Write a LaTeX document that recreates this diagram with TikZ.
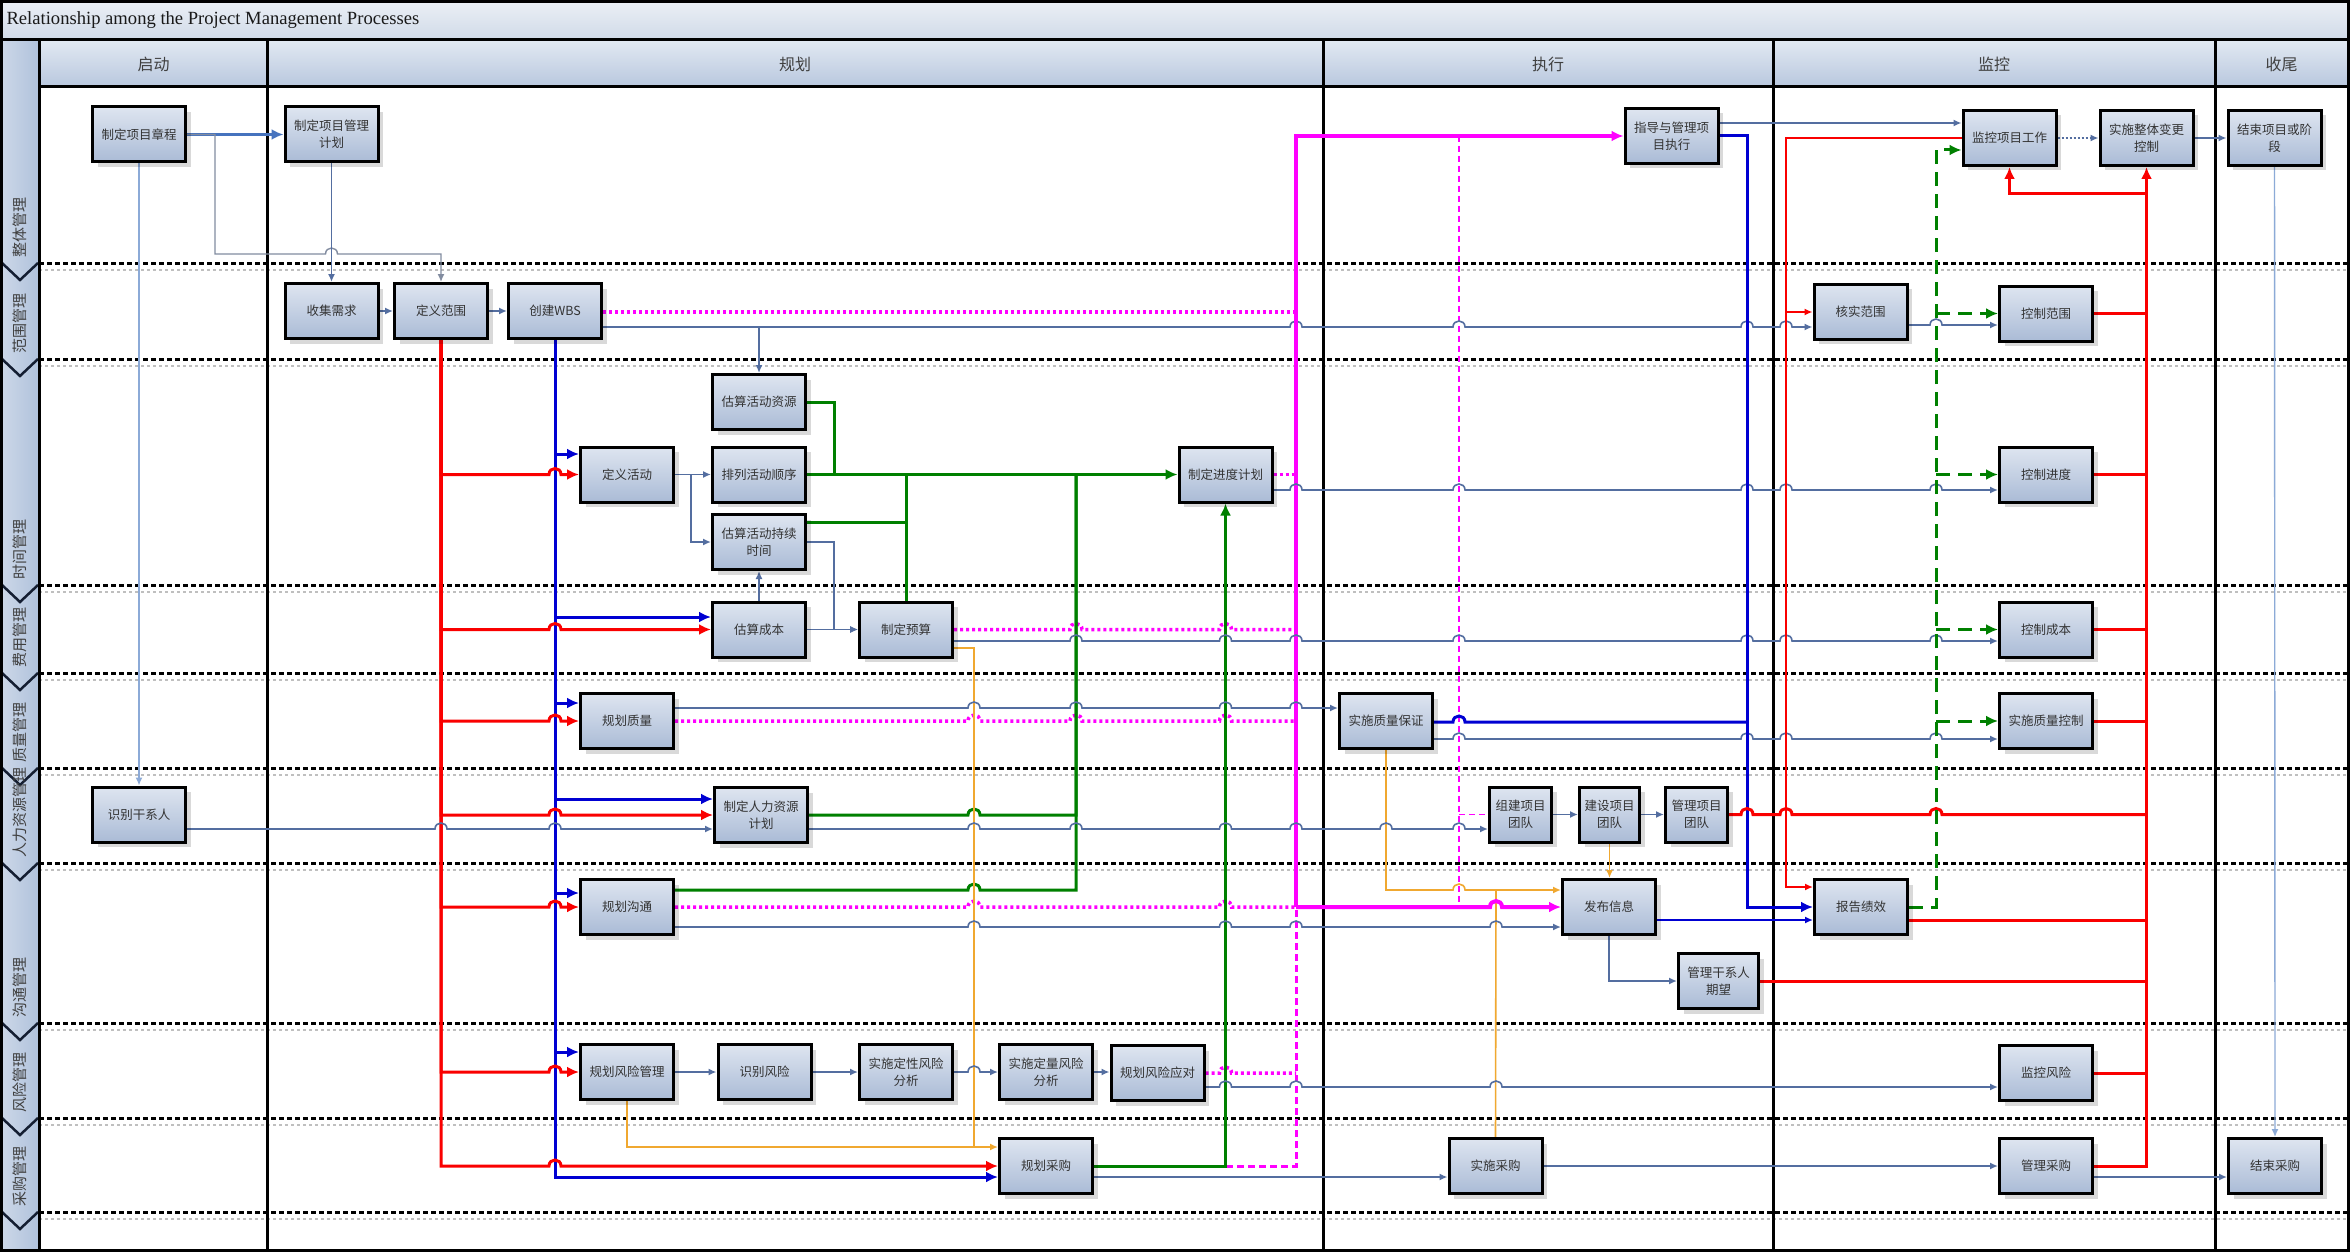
\documentclass[tikz,border=0pt]{standalone}
\usepackage{fontspec}
\setmainfont{Liberation Serif}
\newfontfamily\cjk{Noto Sans CJK SC}
\usetikzlibrary{arrows.meta,shadows,calc}
\pgfdeclarelayer{bg}
\pgfdeclarelayer{mid}
\pgfsetlayers{bg,mid,main}
\definecolor{cred}{RGB}{250,0,0}
\definecolor{cblue}{RGB}{0,0,210}
\definecolor{cgreen}{RGB}{0,128,0}
\definecolor{cmag}{RGB}{255,0,255}
\definecolor{csteel}{RGB}{84,110,160}
\definecolor{csteelb}{RGB}{70,115,190}
\definecolor{corange}{RGB}{240,168,48}
\definecolor{cgray}{RGB}{130,140,160}
\definecolor{clight}{RGB}{140,170,215}
\definecolor{ntop}{RGB}{222,229,240}
\definecolor{nbot}{RGB}{170,187,214}
\definecolor{htop}{RGB}{226,233,242}
\definecolor{hbot}{RGB}{184,199,222}
\definecolor{ttop}{RGB}{236,240,246}
\definecolor{tbot}{RGB}{208,218,232}
\definecolor{stripL}{RGB}{205,216,232}
\definecolor{stripR}{RGB}{176,194,220}
\definecolor{cnavy}{RGB}{20,30,50}
\newcommand\hopx[2]{-- ({#1-6},#2) .. controls ({#1-6},{#2-8}) and ({#1+6},{#2-8}) .. ({#1+6},#2)}
\begin{document}
\begin{tikzpicture}[x=1pt,y=-1pt,
  proc/.style={draw=black, line width=3pt, minimum width=93pt, minimum height=55pt, inner sep=1pt, align=center,
    top color=ntop, bottom color=nbot, text=black!80, font=\cjk\fontsize{12.5}{17}\selectfont,
    drop shadow={shadow xshift=5pt, shadow yshift=-5pt, fill=black, opacity=0.15}},
  hdr/.style={font=\cjk\fontsize{16}{16}\selectfont, text=black!75},
  lanelbl/.style={rotate=90, anchor=west, inner sep=0pt, font=\cjk\fontsize{15}{15}\selectfont, text=black!75},
  lred/.style={draw=cred, line width=3pt},
  lredn/.style={draw=cred, line width=1.6pt},
  lblue/.style={draw=cblue, line width=3pt},
  lbluen/.style={draw=cblue, line width=1.6pt},
  lgreen/.style={draw=cgreen, line width=3pt},
  lgreend/.style={draw=cgreen, line width=3pt, dash pattern=on 14pt off 8pt},
  lmag/.style={draw=cmag, line width=4pt},
  lmagdot/.style={draw=cmag, line width=3.5pt, dash pattern=on 3pt off 3pt},
  lmagdash/.style={draw=cmag, line width=3pt, dash pattern=on 7pt off 4pt},
  lmagthin/.style={draw=cmag, line width=1.6pt, dash pattern=on 6pt off 4pt},
  lsteel/.style={draw=csteel, line width=1.6pt},
  lsteelb/.style={draw=csteelb, line width=3pt},
  lorange/.style={draw=corange, line width=1.6pt},
  lgray/.style={draw=cgray, line width=1.4pt},
  llight/.style={draw=clight, line width=1.4pt},
  bigarr/.style={-{Latex[length=12pt,width=11pt]}},
  smarr/.style={-{Latex[length=8pt,width=7pt]}}]
\useasboundingbox (0,0) rectangle (2350,1252);

% ---------- process nodes ----------
\node[proc] (zc) at (139,134.5) {制定项目章程};
\node[proc] (pmp) at (331.5,134.5) {制定项目管理\\计划};
\node[proc] (sjxq) at (331.5,311) {收集需求};
\node[proc] (dyfw) at (441,311) {定义范围};
\node[proc] (wbs) at (555,311) {创建WBS};
\node[proc] (dyhd) at (627,474.5) {定义活动};
\node[proc] (gszy) at (759,402) {估算活动资源};
\node[proc] (plsx) at (759,474.5) {排列活动顺序};
\node[proc] (gssj) at (759,542) {估算活动持续\\时间};
\node[proc] (gscb) at (759,629.5) {估算成本};
\node[proc] (zdys) at (906,629.5) {制定预算};
\node[proc] (jdjh) at (1225.5,474.5) {制定进度计划};
\node[proc] (ghzl) at (627,721) {规划质量};
\node[proc] (rlzy) at (761,815) {制定人力资源\\计划};
\node[proc] (sbgxr) at (139,814.5) {识别干系人};
\node[proc] (ghgt) at (627,907) {规划沟通};
\node[proc] (ghfx) at (627,1072) {规划风险管理};
\node[proc] (sbfx) at (764.5,1072) {识别风险};
\node[proc] (dxfx) at (906,1072) {实施定性风险\\分析};
\node[proc] (dlfx) at (1046,1072) {实施定量风险\\分析};
\node[proc] (fxyd) at (1157.5,1073) {规划风险应对};
\node[proc] (ghcg) at (1046,1166) {规划采购};
\node[proc] (zxgl) at (1671.5,136) {指导与管理项\\目执行};
\node[proc] (zlbz) at (1386,721) {实施质量保证};
\node[proc, minimum width=62pt] (zjtd) at (1520.5,814.5) {组建项目\\团队};
\node[proc, minimum width=60pt] (jstd) at (1609.5,814.5) {建设项目\\团队};
\node[proc, minimum width=62pt] (gltd) at (1696.5,814.5) {管理项目\\团队};
\node[proc] (fbxx) at (1609,907) {发布信息};
\node[proc, minimum width=80pt] (glgxr) at (1718.5,981) {管理干系人\\期望};
\node[proc] (sscg) at (1495.5,1166) {实施采购};
\node[proc] (jkgz) at (2009.5,138) {监控项目工作};
\node[proc] (ztbg) at (2146.5,138) {实施整体变更\\控制};
\node[proc] (jsxm) at (2274.5,138) {结束项目或阶\\段};
\node[proc] (hsfw) at (1860.5,311.5) {核实范围};
\node[proc] (kzfw) at (2046,313.5) {控制范围};
\node[proc] (kzjd) at (2046,474.5) {控制进度};
\node[proc] (kzcb) at (2046,629.5) {控制成本};
\node[proc] (zlkz) at (2046,721) {实施质量控制};
\node[proc] (bgjx) at (1861,907) {报告绩效};
\node[proc] (jkfx) at (2046,1073) {监控风险};
\node[proc] (glcg) at (2046,1166) {管理采购};
\node[proc] (jscg) at (2275,1166) {结束采购};

% ---------- junction coordinates ----------
\coordinate (cA) at (215,134.5);
\coordinate (wbsbr) at (759,327);
\coordinate (tbr) at (691,474.5);
\coordinate (gm1) at (834,474.5);
\coordinate (gm2) at (906,474.5);
\coordinate (gm3) at (1076,474.5);
\coordinate (mj) at (1296,907);
\coordinate (mtop) at (1296,136);
\coordinate (mcol) at (1459,136);
\coordinate (mcolb) at (1459,907);
\coordinate (mcolr) at (1459,814.5);
\coordinate (oj1) at (974,1147);
\coordinate (oj2) at (1496,890);
\coordinate (bj) at (1747,722);
\coordinate (rtb) at (1786,312);
\coordinate (rvx) at (2146.5,194);
\coordinate (gdv) at (1936,907);

% ---------- frame ----------
\begin{pgfonlayer}{bg}
\fill[white] (0,0) rectangle (2350,1252);
\shade[top color=ttop, bottom color=tbot] (0,0) rectangle (2350,40);
\shade[top color=htop, bottom color=hbot] (39,40) rectangle (2350,87);
\shade[left color=stripL, right color=stripR] (0,40) rectangle (39,1252);
\foreach \yy in {263,359,585,673,768,863,1023,1118,1212} {
  \draw[black!25, line width=1.5pt, dash pattern=on 3pt off 3pt] (39,\yy+7) -- (2348,\yy+7);
  \draw[black, line width=3pt, dash pattern=on 5pt off 3pt] (39,\yy) -- (2348,\yy);
  \draw[cnavy, line width=2.5pt] (2,\yy) -- (20,\yy+17) -- (38,\yy);
}
\foreach \xx in {267,1323,1773,2215} \draw[line width=3pt] (\xx,40) -- (\xx,1250);
\draw[line width=3pt] (39,40) -- (39,1250);
\draw[line width=3pt] (0,40) -- (2350,40);
\draw[line width=3pt] (39,87) -- (2350,87);
\draw[line width=3pt] (1.5,1.5) rectangle (2348.5,1250.5);
\node[anchor=west, font=\fontsize{18.6}{18.6}\selectfont, text=black!90] (title) at (3,20) {Relationship among the Project Management Processes};
\node[hdr] (h1) at (153.5,64) {启动};
\node[hdr] (h2) at (795,64) {规划};
\node[hdr] (h3) at (1548,64) {执行};
\node[hdr] (h4) at (1994,64) {监控};
\node[hdr] (h5) at (2281.5,64) {收尾};
\node[lanelbl] (l1) at (20,258) {整体管理};
\node[lanelbl] (l2) at (20,354) {范围管理};
\node[lanelbl] (l3) at (20,580) {时间管理};
\node[lanelbl] (l4) at (20,668) {费用管理};
\node[lanelbl] (l5) at (20,763) {质量管理};
\node[lanelbl] (l6) at (20,858) {人力资源管理};
\node[lanelbl] (l7) at (20,1018) {沟通管理};
\node[lanelbl] (l8) at (20,1113) {风险管理};
\node[lanelbl] (l9) at (20,1207) {采购管理};
\end{pgfonlayer}

% ---------- connectors ----------
\begin{pgfonlayer}{mid}
% magenta dotted inputs to the plan
\draw[lmagdot] (wbs.east |- 0,312) -- (mtop |- 0,312);
\draw[lmagdot] (jdjh.east) -- (mtop |- jdjh.east);
\draw[lmagdot] (zdys.east) \hopx{1076}{629.5} \hopx{1225.5}{629.5} -- (mtop |- zdys.east);
\draw[lmagdot] (ghzl.east) \hopx{974}{721} \hopx{1076}{721} \hopx{1225.5}{721} -- (mtop |- ghzl.east);
\draw[lmagdot] (ghgt.east) \hopx{974}{907} \hopx{1225.5}{907} -- (mj);
\draw[lmagdot] (fxyd.east) \hopx{1225.5}{1073} -- (mtop |- fxyd.east);
\draw[lmagdash] (ghcg.east) -- (mtop |- ghcg.east) -- (mj);
\draw[lmagthin] (mcol) -- (mcolb);
\draw[lmagthin] (mcolr) -- (zjtd.west);

% integration
\draw[lsteelb, bigarr] (zc.east) -- (pmp.west);
\draw[lgray, smarr] (zc.east) -- (cA) -- (215,254) \hopx{331.5}{254} -- (dyfw.north |- 0,254) -- (dyfw.north);
\draw[lsteel, smarr] (pmp.south) -- (sjxq.north);
\draw[llight, smarr] (zc.south) -- (sbgxr.north);
\draw[lsteel, line width=2.2pt, smarr] (sjxq.east) -- (dyfw.west);
\draw[lsteel, line width=2.2pt, smarr] (dyfw.east) -- (wbs.west);

% blue tree from WBS
\foreach \tn/\ty in {dyhd/454, gscb/617, ghzl/703, rlzy/799, ghgt/893, ghfx/1052, ghcg/1177}
  \draw[lblue, bigarr] (wbs.south) |- (\tn.west |- 0,\ty);
% red tree from scope
\foreach \tn/\ty in {dyhd/474.5, gscb/629.5, ghzl/721, rlzy/815, ghgt/907, ghfx/1072, ghcg/1166}
  \draw[lred, bigarr] (dyfw.south) -- (441,\ty) \hopx{555}{\ty} -- (\tn.west);

% WBS steel output
\draw[lsteel, smarr] (wbs.east |- 0,327) \hopx{1296}{327} \hopx{1459}{327} \hopx{1747}{327} \hopx{1786}{327} -- (hsfw.west |- 0,327);
\draw[lsteel, smarr] (wbsbr) -- (gszy.north);

% time
\draw[lsteel, smarr] (dyhd.east) -- (plsx.west);
\draw[lsteel, smarr] (tbr) |- (gssj.west);
\draw[lsteel, smarr] (gscb.north) -- (gssj.south);
\draw[lsteel, smarr] (gssj.east) -- (834,542) |- (zdys.west);
\draw[lsteel, smarr] (gscb.east) -- (zdys.west);

% green
\draw[lgreen] (gszy.east) -| (gm1);
\draw[lgreen, bigarr] (plsx.east) -- (jdjh.west);
\draw[lgreen] (gssj.east |- 0,522) -| (gm2);
\draw[lgreen] (zdys.north) -- (gm2);
\draw[lgreen] (rlzy.east) \hopx{974}{815} -- (1076,815) -- (gm3);
\draw[lgreen] (ghgt.east |- 0,890) \hopx{974}{890} -- (1076,890) -- (gm3);
\draw[lgreen, bigarr] (ghcg.east) -- (1225.5,1166) -- (jdjh.south);

% orange
\draw[lorange, smarr] (zdys.east |- 0,648) -- (974,648) -- (oj1) -- (ghcg.west |- oj1);
\draw[lorange] (ghfx.south) |- (oj1);
\draw[lorange, smarr] (zlbz.south) -- (1386,890) \hopx{1459}{890} -- (fbxx.west |- 0,890);
\draw[lorange] (sscg.north) -- (oj2);
\draw[lorange, smarr] (jstd.south) -- (jstd.south |- fbxx.north);

% magenta solid
\draw[lmag, bigarr] (mj) -- (mtop) -- (zxgl.west);
\draw[lmag, bigarr] (mj) \hopx{1496}{907} -- (fbxx.west);

% steel long lines
\draw[lsteel, smarr] (jdjh.east |- 0,490) \hopx{1296}{490} \hopx{1459}{490} \hopx{1747}{490} \hopx{1786}{490} \hopx{1936}{490} -- (kzjd.west |- 0,490);
\draw[lsteel, smarr] (zdys.east |- 0,641) \hopx{1076}{641} \hopx{1225.5}{641} \hopx{1296}{641} \hopx{1459}{641} \hopx{1747}{641} \hopx{1786}{641} \hopx{1936}{641} -- (kzcb.west |- 0,641);
\draw[lsteel, smarr] (ghzl.east |- 0,708) \hopx{974}{708} \hopx{1076}{708} \hopx{1225.5}{708} \hopx{1296}{708} -- (zlbz.west |- 0,708);
\draw[lsteel, smarr] (zlbz.east |- 0,739) \hopx{1459}{739} \hopx{1747}{739} \hopx{1786}{739} \hopx{1936}{739} -- (zlkz.west |- 0,739);
\draw[lsteel, smarr] (sbgxr.east |- 0,829) \hopx{441}{829} \hopx{555}{829} -- (rlzy.west |- 0,829);
\draw[lsteel, smarr] (rlzy.east |- 0,829) \hopx{974}{829} \hopx{1076}{829} \hopx{1225.5}{829} \hopx{1296}{829} \hopx{1386}{829} \hopx{1459}{829} -- (zjtd.west |- 0,829);
\draw[lsteel, smarr] (ghgt.east |- 0,927) \hopx{974}{927} \hopx{1225.5}{927} \hopx{1296}{927} \hopx{1496}{927} -- (fbxx.west |- 0,927);
\draw[lsteel, smarr] (zjtd.east) -- (jstd.west);
\draw[lsteel, smarr] (jstd.east) -- (gltd.west);
\draw[lsteel, smarr] (fbxx.south) |- (glgxr.west);
\draw[lsteel, smarr] (ghfx.east) -- (sbfx.west);
\draw[lsteel, smarr] (sbfx.east) -- (dxfx.west);
\draw[lsteel, smarr] (dxfx.east) \hopx{974}{1072} -- (dlfx.west);
\draw[lsteel, smarr] (dlfx.east) -- (fxyd.west |- dlfx.east);
\draw[lsteel, smarr] (fxyd.east |- 0,1087) \hopx{1225.5}{1087} \hopx{1296}{1087} \hopx{1496}{1087} -- (jkfx.west |- 0,1087);
\draw[lsteel, smarr] (ghcg.east |- 0,1177) -- (sscg.west |- 0,1177);
\draw[lsteel, smarr] (sscg.east) -- (glcg.west);
\draw[lsteel, smarr] (glcg.east |- 0,1177) -- (jscg.west |- 0,1177);
\draw[lsteel, smarr] (zxgl.east |- 0,123) -- (jkgz.west |- 0,123);
\draw[lsteel, smarr, dash pattern=on 2pt off 2pt] (jkgz.east) -- (ztbg.west);
\draw[lsteel, smarr] (ztbg.east) -- (jsxm.west);
\draw[llight, smarr] (jsxm.south) -- (jscg.north);
\draw[lsteel, smarr] (hsfw.east |- 0,325) \hopx{1936}{325} -- (kzfw.west |- 0,325);

% blue execution
\draw[lblue, bigarr] (zxgl.east) -- (zxgl.east -| bj) |- (bgjx.west);
\draw[lblue] (zlbz.east |- bj) \hopx{1459}{722} -- (bj);
\draw[lbluen, smarr] (fbxx.east |- 0,920) -- (bgjx.west |- 0,920);

% red thin
\draw[lredn, smarr] (jkgz.west) -- (jkgz.west -| rtb) |- (bgjx.west |- 0,887);
\draw[lredn, smarr] (rtb) -- (hsfw.west |- rtb);

% red monitoring
\draw[lred, bigarr] (glcg.east) -- (glcg.east -| ztbg.south) -- (ztbg.south);
\draw[lred, bigarr] (rvx) -| (jkgz.south);
\foreach \nn in {kzfw,kzjd,kzcb,zlkz,jkfx,glgxr}
  \draw[lred] (\nn.east) -- (\nn.east -| ztbg.south);
\draw[lred] (gltd.east) \hopx{1747}{814.5} \hopx{1786}{814.5} \hopx{1936}{814.5} -- (gltd.east -| ztbg.south);
\draw[lred] (bgjx.east |- 0,920) -- (ztbg.south |- 0,920);

% green dashed
\draw[lgreend, bigarr] (bgjx.east) -- (gdv) -- (gdv |- 0,150) -- (jkgz.west |- 0,150);
\foreach \nn in {kzfw,kzjd,kzcb,zlkz}
  \draw[lgreend, bigarr] (gdv |- \nn.west) -- (\nn.west);
\end{pgfonlayer}
\end{tikzpicture}
\end{document}
